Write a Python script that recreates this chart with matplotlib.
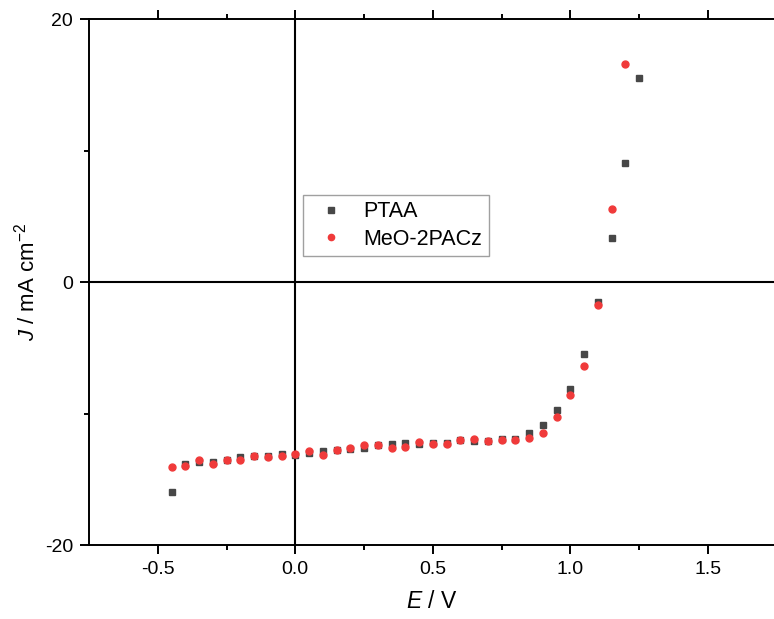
import matplotlib
matplotlib.use("Agg")
import matplotlib.pyplot as plt
from matplotlib.ticker import FixedLocator

plt.rcParams['font.family'] = ['Liberation Sans', 'DejaVu Sans']
plt.rcParams['mathtext.fontset'] = 'custom'
plt.rcParams['mathtext.rm'] = 'Liberation Sans'
plt.rcParams['mathtext.it'] = 'Liberation Sans:italic'

E_ptaa = [-0.45, -0.40, -0.35, -0.30, -0.25, -0.20, -0.15, -0.10, -0.05, 0.00,
          0.05, 0.10, 0.15, 0.20, 0.25, 0.30, 0.35, 0.40, 0.45, 0.50,
          0.55, 0.60, 0.65, 0.70, 0.75, 0.80, 0.85, 0.90, 0.95, 1.00,
          1.05, 1.10, 1.15, 1.20, 1.25]
J_ptaa = [-16.0, -13.87, -13.72, -13.72, -13.54, -13.31, -13.21, -13.21, -13.08, -13.13,
          -13.03, -12.83, -12.78, -12.67, -12.62, -12.42, -12.34, -12.27, -12.32, -12.27,
          -12.22, -12.05, -12.09, -12.07, -11.94, -11.94, -11.51, -10.87, -9.76, -8.14,
          -5.50, -1.52, 3.32, 9.02, 15.54]

E_meo = [-0.45, -0.40, -0.35, -0.30, -0.25, -0.20, -0.15, -0.10, -0.05, 0.00,
         0.05, 0.10, 0.15, 0.20, 0.25, 0.30, 0.35, 0.40, 0.45, 0.50,
         0.55, 0.60, 0.65, 0.70, 0.75, 0.80, 0.85, 0.90, 0.95, 1.00,
         1.05, 1.10, 1.15, 1.20]
J_meo = [-14.09, -13.97, -13.52, -13.82, -13.54, -13.54, -13.23, -13.33, -13.23, -13.05,
         -12.88, -13.13, -12.75, -12.65, -12.37, -12.42, -12.62, -12.52, -12.19, -12.32,
         -12.34, -12.02, -11.91, -12.07, -12.04, -12.04, -11.86, -11.46, -10.24, -8.59,
         -6.39, -1.77, 5.55, 16.60]

labels = ["PTAA", "MeO-2PACz"]
colors = ["#474747", "#F03A3A"]

W, H = 774, 619
fig = plt.figure(figsize=(W / 100, H / 100), dpi=100)
left, right, top, bottom = 89, 774, 19, 545
ax = fig.add_axes([left / W, (H - bottom) / H, (right - left) / W, (bottom - top) / H])

ax.plot(E_ptaa, J_ptaa, linestyle='none', marker='s', markersize=4.6,
        color=colors[0], label=labels[0], zorder=3)
ax.plot(E_meo, J_meo, linestyle='none', marker='o', markersize=5,
        color=colors[1], label=labels[1], zorder=4)

ax.axhline(0, color='black', lw=1.5, zorder=2)
ax.axvline(0, color='black', lw=1.5, zorder=2)

ax.set_xlim(-0.75, -0.75 + (right - left) / 275.0)
ax.set_ylim(-20, 20)

ax.xaxis.set_major_locator(FixedLocator([-0.5, 0.0, 0.5, 1.0, 1.5]))
ax.xaxis.set_minor_locator(FixedLocator([-0.25, 0.25, 0.75, 1.25]))
ax.yaxis.set_major_locator(FixedLocator([-20, 0, 20]))
ax.yaxis.set_minor_locator(FixedLocator([-10, 10]))
ax.set_xticklabels(["-0.5", "0.0", "0.5", "1.0", "1.5"])
ax.set_yticklabels(["-20", "0", "20"])

ax.tick_params(axis='both', which='both', direction='out', width=1.4, labelsize=14)
ax.tick_params(axis='both', which='major', length=6.5, pad=5)
ax.tick_params(axis='both', which='minor', length=3.5)
ax.tick_params(axis='x', which='both', top=True, bottom=True)
ax.tick_params(axis='y', which='both', left=True, right=False)

for s in ['left', 'top', 'bottom']:
    ax.spines[s].set_linewidth(1.4)
ax.spines['right'].set_visible(False)

ax.set_xlabel(r"$\it{E}$ / V", fontsize=16.5, labelpad=9)
ax.set_ylabel(r"$\it{J}$ / mA cm$^{-2}$", fontsize=16, labelpad=4)

leg = ax.legend(loc='upper left', bbox_to_anchor=((303 - left) / (right - left), (bottom - 195) / (bottom - top)),
                borderaxespad=0.0,
                fontsize=15.5, frameon=True, fancybox=False, edgecolor='#888888',
                handletextpad=0.5, handlelength=2.0, borderpad=0.3, labelspacing=0.3,
                markerscale=0.9)
leg.get_frame().set_linewidth(1.0)

fig.savefig("out.png", dpi=100)
